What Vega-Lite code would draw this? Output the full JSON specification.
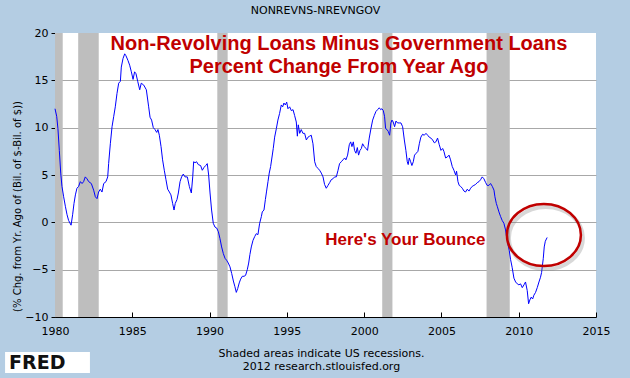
{
  "$schema": "https://vega.github.io/schema/vega-lite/v6.json",
  "width": 541,
  "height": 284,
  "autosize": {"type": "none"},
  "padding": {"left": 55, "top": 33, "right": 34, "bottom": 61},
  "background": "#B4CDE3",
  "title": {
    "text": "NONREVNS-NREVNGOV",
    "font": "DejaVu Sans",
    "fontSize": 11,
    "fontWeight": "normal",
    "color": "#000000",
    "anchor": "middle",
    "frame": "group",
    "dx": -10,
    "dy": 11,
    "offset": 13.5,
    "baseline": "alphabetic"
  },
  "config": {
    "view": {"fill": "#FFFFFF", "stroke": null},
    "axis": {
      "labelFont": "DejaVu Sans",
      "labelFontSize": 11,
      "labelColor": "#000000",
      "titleFont": "DejaVu Sans",
      "titleFontSize": 11,
      "titleFontWeight": "normal",
      "titleColor": "#000000",
      "domainColor": "#000000",
      "tickColor": "#000000"
    }
  },
  "datasets": {
    "recessions": [
      {"start": 1980.0, "end": 1980.5},
      {"start": 1981.5, "end": 1982.83},
      {"start": 1990.5, "end": 1991.17},
      {"start": 2001.17, "end": 2001.83},
      {"start": 2007.92, "end": 2009.42}
    ],
    "loans": [
      {"year": 1980.00, "pct": 12.0}, {"year": 1980.11, "pct": 11.2}, {"year": 1980.19, "pct": 9.9}, {"year": 1980.28, "pct": 7.6},
      {"year": 1980.37, "pct": 5.2}, {"year": 1980.45, "pct": 3.8}, {"year": 1980.56, "pct": 2.7}, {"year": 1980.67, "pct": 1.7},
      {"year": 1980.78, "pct": 0.8}, {"year": 1980.88, "pct": 0.2}, {"year": 1981.04, "pct": -0.3}, {"year": 1981.14, "pct": 0.8},
      {"year": 1981.23, "pct": 2.0}, {"year": 1981.32, "pct": 2.9}, {"year": 1981.42, "pct": 3.6}, {"year": 1981.53, "pct": 3.8},
      {"year": 1981.64, "pct": 4.3}, {"year": 1981.75, "pct": 4.1}, {"year": 1981.85, "pct": 4.3}, {"year": 1981.96, "pct": 4.8},
      {"year": 1982.07, "pct": 4.6}, {"year": 1982.18, "pct": 4.3}, {"year": 1982.35, "pct": 4.1}, {"year": 1982.50, "pct": 3.4},
      {"year": 1982.61, "pct": 2.7}, {"year": 1982.72, "pct": 2.5}, {"year": 1982.82, "pct": 3.2}, {"year": 1982.93, "pct": 3.5},
      {"year": 1983.04, "pct": 3.2}, {"year": 1983.15, "pct": 4.1}, {"year": 1983.30, "pct": 4.3}, {"year": 1983.41, "pct": 4.8},
      {"year": 1983.47, "pct": 6.2}, {"year": 1983.58, "pct": 8.3}, {"year": 1983.69, "pct": 10.1}, {"year": 1983.80, "pct": 11.2},
      {"year": 1983.90, "pct": 12.2}, {"year": 1984.01, "pct": 13.6}, {"year": 1984.12, "pct": 14.7}, {"year": 1984.23, "pct": 14.9},
      {"year": 1984.29, "pct": 16.4}, {"year": 1984.40, "pct": 17.3}, {"year": 1984.51, "pct": 17.8}, {"year": 1984.59, "pct": 17.6},
      {"year": 1984.72, "pct": 17.1}, {"year": 1984.83, "pct": 16.6}, {"year": 1984.94, "pct": 15.9}, {"year": 1985.05, "pct": 15.1},
      {"year": 1985.15, "pct": 15.9}, {"year": 1985.24, "pct": 15.7}, {"year": 1985.35, "pct": 14.9}, {"year": 1985.48, "pct": 14.0},
      {"year": 1985.58, "pct": 14.7}, {"year": 1985.74, "pct": 14.5}, {"year": 1985.91, "pct": 14.0}, {"year": 1986.06, "pct": 12.2},
      {"year": 1986.15, "pct": 11.1}, {"year": 1986.25, "pct": 10.8}, {"year": 1986.36, "pct": 10.0}, {"year": 1986.47, "pct": 9.8},
      {"year": 1986.58, "pct": 9.5}, {"year": 1986.66, "pct": 9.8}, {"year": 1986.75, "pct": 9.2}, {"year": 1986.86, "pct": 8.0},
      {"year": 1986.96, "pct": 6.6}, {"year": 1987.07, "pct": 5.5}, {"year": 1987.18, "pct": 4.5}, {"year": 1987.29, "pct": 3.5},
      {"year": 1987.40, "pct": 3.2}, {"year": 1987.50, "pct": 2.9}, {"year": 1987.61, "pct": 2.0}, {"year": 1987.70, "pct": 1.3},
      {"year": 1987.78, "pct": 2.0}, {"year": 1987.89, "pct": 2.4}, {"year": 1987.98, "pct": 3.1}, {"year": 1988.09, "pct": 4.3},
      {"year": 1988.19, "pct": 4.8}, {"year": 1988.30, "pct": 5.1}, {"year": 1988.41, "pct": 4.8}, {"year": 1988.56, "pct": 4.8},
      {"year": 1988.69, "pct": 3.8}, {"year": 1988.82, "pct": 3.1}, {"year": 1988.91, "pct": 4.8}, {"year": 1988.97, "pct": 6.4},
      {"year": 1989.06, "pct": 6.3}, {"year": 1989.16, "pct": 6.4}, {"year": 1989.27, "pct": 6.1}, {"year": 1989.42, "pct": 6.0},
      {"year": 1989.53, "pct": 5.5}, {"year": 1989.64, "pct": 5.8}, {"year": 1989.75, "pct": 6.0}, {"year": 1989.85, "pct": 6.2},
      {"year": 1989.94, "pct": 5.0}, {"year": 1990.03, "pct": 3.1}, {"year": 1990.13, "pct": 1.3}, {"year": 1990.24, "pct": -0.1},
      {"year": 1990.35, "pct": -0.5}, {"year": 1990.46, "pct": -0.6}, {"year": 1990.57, "pct": -1.0}, {"year": 1990.67, "pct": -1.7},
      {"year": 1990.78, "pct": -2.6}, {"year": 1990.89, "pct": -3.3}, {"year": 1991.00, "pct": -3.8}, {"year": 1991.10, "pct": -4.0},
      {"year": 1991.21, "pct": -4.3}, {"year": 1991.32, "pct": -4.7}, {"year": 1991.43, "pct": -5.4}, {"year": 1991.54, "pct": -6.2},
      {"year": 1991.64, "pct": -6.8}, {"year": 1991.73, "pct": -7.4}, {"year": 1991.82, "pct": -7.0}, {"year": 1991.92, "pct": -6.4},
      {"year": 1992.01, "pct": -6.0}, {"year": 1992.12, "pct": -5.7}, {"year": 1992.23, "pct": -5.7}, {"year": 1992.33, "pct": -5.6},
      {"year": 1992.44, "pct": -5.0}, {"year": 1992.53, "pct": -4.3}, {"year": 1992.61, "pct": -3.4}, {"year": 1992.70, "pct": -2.6},
      {"year": 1992.81, "pct": -1.9}, {"year": 1992.92, "pct": -1.5}, {"year": 1993.02, "pct": -1.2}, {"year": 1993.13, "pct": -1.3},
      {"year": 1993.24, "pct": -0.1}, {"year": 1993.35, "pct": 0.6}, {"year": 1993.41, "pct": 1.1}, {"year": 1993.52, "pct": 1.3},
      {"year": 1993.61, "pct": 2.4}, {"year": 1993.69, "pct": 3.3}, {"year": 1993.78, "pct": 4.3}, {"year": 1993.86, "pct": 5.2},
      {"year": 1993.95, "pct": 5.9}, {"year": 1994.04, "pct": 6.9}, {"year": 1994.12, "pct": 7.8}, {"year": 1994.21, "pct": 9.0},
      {"year": 1994.32, "pct": 9.9}, {"year": 1994.42, "pct": 10.8}, {"year": 1994.53, "pct": 11.5}, {"year": 1994.64, "pct": 12.4},
      {"year": 1994.73, "pct": 12.2}, {"year": 1994.81, "pct": 12.6}, {"year": 1994.90, "pct": 12.4}, {"year": 1994.99, "pct": 12.7},
      {"year": 1995.07, "pct": 12.0}, {"year": 1995.18, "pct": 12.2}, {"year": 1995.29, "pct": 11.8}, {"year": 1995.40, "pct": 11.9},
      {"year": 1995.50, "pct": 11.3}, {"year": 1995.61, "pct": 10.6}, {"year": 1995.68, "pct": 9.1}, {"year": 1995.74, "pct": 10.3},
      {"year": 1995.83, "pct": 9.4}, {"year": 1995.93, "pct": 9.8}, {"year": 1996.04, "pct": 9.4}, {"year": 1996.15, "pct": 9.4},
      {"year": 1996.26, "pct": 8.7}, {"year": 1996.37, "pct": 9.0}, {"year": 1996.47, "pct": 9.1}, {"year": 1996.58, "pct": 9.2},
      {"year": 1996.69, "pct": 8.3}, {"year": 1996.80, "pct": 6.4}, {"year": 1996.90, "pct": 5.9}, {"year": 1997.01, "pct": 5.7},
      {"year": 1997.12, "pct": 5.5}, {"year": 1997.23, "pct": 5.2}, {"year": 1997.34, "pct": 4.8}, {"year": 1997.44, "pct": 4.0},
      {"year": 1997.55, "pct": 3.6}, {"year": 1997.66, "pct": 3.9}, {"year": 1997.77, "pct": 4.2}, {"year": 1997.87, "pct": 4.5},
      {"year": 1997.98, "pct": 4.6}, {"year": 1998.09, "pct": 4.8}, {"year": 1998.20, "pct": 4.8}, {"year": 1998.31, "pct": 5.5},
      {"year": 1998.41, "pct": 6.2}, {"year": 1998.52, "pct": 6.4}, {"year": 1998.63, "pct": 6.6}, {"year": 1998.74, "pct": 6.8},
      {"year": 1998.82, "pct": 6.6}, {"year": 1998.93, "pct": 7.1}, {"year": 1999.04, "pct": 8.2}, {"year": 1999.13, "pct": 8.5},
      {"year": 1999.21, "pct": 8.0}, {"year": 1999.30, "pct": 8.5}, {"year": 1999.38, "pct": 7.6}, {"year": 1999.47, "pct": 7.3},
      {"year": 1999.56, "pct": 7.9}, {"year": 1999.64, "pct": 7.1}, {"year": 1999.73, "pct": 7.6}, {"year": 1999.82, "pct": 7.8},
      {"year": 1999.90, "pct": 8.3}, {"year": 2000.01, "pct": 8.0}, {"year": 2000.12, "pct": 7.8}, {"year": 2000.22, "pct": 7.6},
      {"year": 2000.33, "pct": 8.9}, {"year": 2000.44, "pct": 9.9}, {"year": 2000.55, "pct": 10.8}, {"year": 2000.66, "pct": 11.3},
      {"year": 2000.76, "pct": 11.7}, {"year": 2000.87, "pct": 11.9}, {"year": 2000.98, "pct": 12.1}, {"year": 2001.07, "pct": 11.9},
      {"year": 2001.15, "pct": 12.0}, {"year": 2001.24, "pct": 11.8}, {"year": 2001.32, "pct": 11.2}, {"year": 2001.39, "pct": 9.9},
      {"year": 2001.48, "pct": 9.8}, {"year": 2001.56, "pct": 9.6}, {"year": 2001.65, "pct": 9.2}, {"year": 2001.73, "pct": 10.5},
      {"year": 2001.80, "pct": 10.8}, {"year": 2001.88, "pct": 10.6}, {"year": 2001.97, "pct": 10.1}, {"year": 2002.06, "pct": 10.7},
      {"year": 2002.16, "pct": 10.5}, {"year": 2002.27, "pct": 10.5}, {"year": 2002.38, "pct": 10.5}, {"year": 2002.49, "pct": 10.1},
      {"year": 2002.60, "pct": 8.7}, {"year": 2002.70, "pct": 7.6}, {"year": 2002.79, "pct": 6.4}, {"year": 2002.85, "pct": 6.1},
      {"year": 2002.92, "pct": 6.8}, {"year": 2003.01, "pct": 6.4}, {"year": 2003.09, "pct": 6.0}, {"year": 2003.18, "pct": 6.4},
      {"year": 2003.26, "pct": 7.1}, {"year": 2003.37, "pct": 7.3}, {"year": 2003.48, "pct": 7.5}, {"year": 2003.57, "pct": 8.3},
      {"year": 2003.67, "pct": 9.0}, {"year": 2003.78, "pct": 9.3}, {"year": 2003.89, "pct": 9.2}, {"year": 2004.00, "pct": 9.4},
      {"year": 2004.11, "pct": 9.2}, {"year": 2004.21, "pct": 9.0}, {"year": 2004.32, "pct": 8.9}, {"year": 2004.43, "pct": 8.7},
      {"year": 2004.54, "pct": 8.4}, {"year": 2004.64, "pct": 8.5}, {"year": 2004.75, "pct": 8.9}, {"year": 2004.86, "pct": 8.2},
      {"year": 2004.97, "pct": 7.6}, {"year": 2005.08, "pct": 7.8}, {"year": 2005.16, "pct": 7.5}, {"year": 2005.27, "pct": 6.8},
      {"year": 2005.38, "pct": 6.9}, {"year": 2005.49, "pct": 7.1}, {"year": 2005.59, "pct": 6.6}, {"year": 2005.70, "pct": 5.9},
      {"year": 2005.81, "pct": 5.5}, {"year": 2005.92, "pct": 5.0}, {"year": 2005.98, "pct": 5.4}, {"year": 2006.07, "pct": 4.3},
      {"year": 2006.15, "pct": 3.9}, {"year": 2006.24, "pct": 3.8}, {"year": 2006.35, "pct": 3.6}, {"year": 2006.46, "pct": 3.3},
      {"year": 2006.56, "pct": 3.2}, {"year": 2006.67, "pct": 3.5}, {"year": 2006.78, "pct": 3.3}, {"year": 2006.89, "pct": 3.6},
      {"year": 2006.99, "pct": 3.8}, {"year": 2007.10, "pct": 3.9}, {"year": 2007.21, "pct": 4.0}, {"year": 2007.32, "pct": 4.2},
      {"year": 2007.43, "pct": 4.3}, {"year": 2007.53, "pct": 4.5}, {"year": 2007.64, "pct": 4.8}, {"year": 2007.75, "pct": 4.6},
      {"year": 2007.86, "pct": 4.2}, {"year": 2007.96, "pct": 3.9}, {"year": 2008.07, "pct": 3.9}, {"year": 2008.18, "pct": 4.1},
      {"year": 2008.29, "pct": 3.8}, {"year": 2008.40, "pct": 3.4}, {"year": 2008.46, "pct": 2.7}, {"year": 2008.55, "pct": 2.0},
      {"year": 2008.61, "pct": 1.7}, {"year": 2008.72, "pct": 1.1}, {"year": 2008.83, "pct": 0.6}, {"year": 2008.93, "pct": 0.2},
      {"year": 2009.04, "pct": -0.1}, {"year": 2009.15, "pct": -0.8}, {"year": 2009.22, "pct": -1.6}, {"year": 2009.30, "pct": -2.3},
      {"year": 2009.39, "pct": -3.0}, {"year": 2009.47, "pct": -3.9}, {"year": 2009.58, "pct": -4.8}, {"year": 2009.69, "pct": -5.9},
      {"year": 2009.80, "pct": -6.3}, {"year": 2009.91, "pct": -6.5}, {"year": 2010.01, "pct": -6.6}, {"year": 2010.12, "pct": -6.5},
      {"year": 2010.23, "pct": -6.9}, {"year": 2010.34, "pct": -6.6}, {"year": 2010.44, "pct": -6.3}, {"year": 2010.55, "pct": -7.2},
      {"year": 2010.64, "pct": -8.6}, {"year": 2010.72, "pct": -8.2}, {"year": 2010.81, "pct": -7.9}, {"year": 2010.90, "pct": -8.1},
      {"year": 2010.98, "pct": -7.7}, {"year": 2011.09, "pct": -7.4}, {"year": 2011.20, "pct": -6.9}, {"year": 2011.31, "pct": -6.3},
      {"year": 2011.41, "pct": -5.8}, {"year": 2011.48, "pct": -5.3}, {"year": 2011.59, "pct": -3.8}, {"year": 2011.65, "pct": -2.6},
      {"year": 2011.72, "pct": -2.0}, {"year": 2011.84, "pct": -1.6}
    ]
  },
  "layer": [
    {
      "data": {"name": "recessions"},
      "mark": {"type": "rect", "color": "#BEBEBE"},
      "encoding": {
        "x": {
          "field": "start", "type": "quantitative",
          "scale": {"domain": [1980, 2015], "nice": false, "zero": false},
          "title": ["Shaded areas indicate US recessions.", "2012 research.stlouisfed.org"]
        },
        "x2": {"field": "end"}
      }
    },
    {
      "data": {"name": "loans"},
      "mark": {"type": "line", "color": "#0000FF", "strokeWidth": 1},
      "encoding": {
        "x": {
          "field": "year", "type": "quantitative",
          "scale": {"domain": [1980, 2015], "nice": false, "zero": false},
          "axis": {
            "values": [1980, 1985, 1990, 1995, 2000, 2005, 2010, 2015],
            "format": "d",
            "grid": false,
            "tickSize": -5,
            "labelPadding": 13,
            "labelFlush": false,
            "title": ["Shaded areas indicate US recessions.", "2012 research.stlouisfed.org"],
            "titleX": 266,
            "titleY": 39,
            "titleAlign": "center",
            "titleBaseline": "alphabetic",
            "titleLineHeight": 13.5
          }
        },
        "y": {
          "field": "pct", "type": "quantitative",
          "scale": {"domain": [-10, 20], "nice": false, "zero": false},
          "axis": {
            "values": [-10, -5, 0, 5, 10, 15, 20],
            "grid": true,
            "gridColor": "#A8A8A8",
            "gridOpacity": {"condition": {"test": "datum.value === 20 || datum.value === -10", "value": 0}, "value": 1},
            "tickSize": 4,
            "labelPadding": 3,
            "title": "(% Chg. from Yr. Ago of (Bil. of $-Bil. of $))",
            "titleFontSize": 10,
            "titleX": -38,
            "titleY": 173,
            "titleAngle": -90,
            "titleAlign": "center",
            "titleBaseline": "middle"
          }
        }
      }
    },
    {
      "data": {"values": [{}]},
      "mark": {"type": "point", "shape": "M -1 0 A 1 0.84 0 1 0 1 0 A 1 0.84 0 1 0 -1 0 Z", "size": 5476, "filled": false, "stroke": "#808080", "strokeWidth": 4, "opacity": 0.3, "xOffset": 2, "yOffset": 3},
      "encoding": {"x": {"datum": 2011.63, "type": "quantitative"}, "y": {"datum": -1.34, "type": "quantitative"}}
    },
    {
      "data": {"values": [{}]},
      "mark": {"type": "point", "shape": "M -1 0 A 1 0.84 0 1 0 1 0 A 1 0.84 0 1 0 -1 0 Z", "size": 5476, "filled": false, "stroke": "#C00000", "strokeWidth": 2.5, "opacity": 1},
      "encoding": {"x": {"datum": 2011.63, "type": "quantitative"}, "y": {"datum": -1.34, "type": "quantitative"}}
    },
    {
      "data": {"values": [{}]},
      "mark": {"type": "text", "font": "Liberation Sans", "fontWeight": "bold", "fontSize": 20, "color": "#C00000", "align": "center", "baseline": "alphabetic"},
      "encoding": {"x": {"datum": 1998.37, "type": "quantitative"}, "y": {"datum": 18.2, "type": "quantitative"}, "text": {"value": "Non-Revolving Loans Minus Government Loans"}}
    },
    {
      "data": {"values": [{}]},
      "mark": {"type": "text", "font": "Liberation Sans", "fontWeight": "bold", "fontSize": 20, "color": "#C00000", "align": "center", "baseline": "alphabetic"},
      "encoding": {"x": {"datum": 1998.37, "type": "quantitative"}, "y": {"datum": 15.77, "type": "quantitative"}, "text": {"value": "Percent Change From Year Ago"}}
    },
    {
      "data": {"values": [{}]},
      "mark": {"type": "text", "font": "Liberation Sans", "fontWeight": "bold", "fontSize": 17, "color": "#C00000", "align": "center", "baseline": "alphabetic"},
      "encoding": {"x": {"datum": 2002.67, "type": "quantitative"}, "y": {"datum": -2.35, "type": "quantitative"}, "text": {"value": "Here's Your Bounce"}}
    },
    {
      "data": {"values": [{}]},
      "mark": {"type": "rect", "color": "#FFFFFF"},
      "encoding": {
        "x": {"datum": 1976.77, "type": "quantitative"}, "x2": {"datum": 1982.26},
        "y": {"datum": -13.7, "type": "quantitative"}, "y2": {"datum": -15.92}
      }
    },
    {
      "data": {"values": [{}]},
      "mark": {"type": "text", "font": "DejaVu Sans", "fontWeight": "bold", "fontSize": 19, "color": "#111111", "align": "center", "baseline": "alphabetic"},
      "encoding": {"x": {"datum": 1978.85, "type": "quantitative"}, "y": {"datum": -15.5, "type": "quantitative"}, "text": {"value": "FRED"}}
    }
  ]
}
